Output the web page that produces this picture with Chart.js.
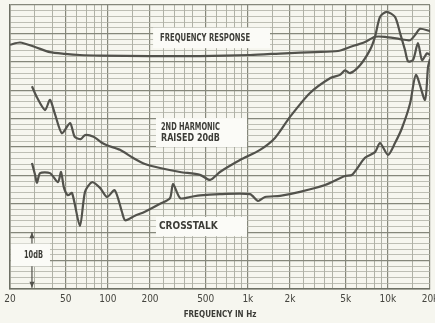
<!DOCTYPE html>
<html>
<head>
  <title>Frequency response, 2nd harmonic and crosstalk</title>
  <script src="https://cdn.jsdelivr.net/npm/chart.js"></script>
  <style>
    html, body {
      margin: 0;
      padding: 0;
      background: #f6f6ef;
    }
    #wrap {
      width: 435px;
      height: 323px;
    }
  </style>
</head>
<body>
  <div id="wrap"><canvas id="chart"></canvas></div>

  <script>
    // x axis: frequency in Hz (log), y axis: level in dB (0 = top of paper)
    const gridHz = [20, 30, 40, 50, 60, 70, 80, 90,
                    100, 150, 200, 250, 300, 350, 400, 500, 600, 700, 800, 900,
                    1000, 1500, 2000, 2500, 3000, 3500, 4000, 5000, 6000, 7000, 8000, 9000,
                    10000, 15000, 20000];
    const tickHz = [20, 50, 100, 200, 500, 1000, 2000, 5000, 10000, 20000];
    const tickText = ['20', '50', '100', '200', '500', '1k', '2k', '5k', '10k', '20k'];

    const responseHz = [20, 23.6, 30.2, 38.6, 49.4, 63.2, 87.9, 200, 455, 1036, 1842, 3018, 4400, 5365, 6866, 8094, 9540, 12210, 14394, 15627, 16965, 20000];
    const responseDb = [-7.0, -6.6, -7.4, -8.3, -8.6, -8.8, -8.9, -9.0, -9.0, -8.8, -8.5, -8.3, -8.1, -7.4, -6.5, -5.6, -5.6, -6.0, -6.2, -5.3, -4.2, -4.6];

    const harmonicHz = [28.7, 31.2, 35.6, 38.6, 41.9, 47, 53.7, 58, 64, 68.7, 79, 90, 98.6, 122, 151, 184, 236, 328, 455, 537, 632, 879, 1222, 1562, 2000, 2779, 3861, 4551, 4941, 5365, 6325, 7455, 8094, 8787, 9800, 11247, 12210, 13250, 13930, 15130, 16400, 17540, 19050, 20000];
    const harmonicDb = [-14.3, -16.3, -18.5, -16.7, -19.2, -22.6, -20.8, -23.2, -23.6, -22.9, -23.2, -24.2, -24.7, -25.5, -26.9, -28.0, -28.7, -29.4, -29.9, -30.8, -29.4, -27.3, -25.5, -23.4, -19.7, -15.5, -12.9, -12.3, -11.5, -12.0, -10.6, -7.9, -5.6, -2.1, -1.2, -2.1, -4.9, -7.9, -9.9, -9.7, -6.7, -9.7, -8.5, -8.8];

    const crosstalkHz = [28.7, 30.2, 31.2, 32.8, 38.6, 44, 46.3, 48.6, 51.9, 55.5, 63.2, 68.7, 77, 87.9, 98.6, 112, 126, 133, 156, 184, 236, 278, 292, 328, 386, 455, 632, 1036, 1182, 1325, 1697, 2357, 3557, 4941, 5547, 6866, 8094, 8787, 10024, 11247, 12600, 14394, 15887, 18420, 19360, 20000];
    const crosstalkDb = [-27.8, -29.9, -31.3, -29.6, -29.6, -31.2, -29.4, -32.2, -33.5, -33.1, -38.9, -32.9, -31.2, -32.2, -33.8, -32.6, -36.4, -37.9, -37.1, -36.4, -35.0, -34.0, -31.5, -34.0, -33.8, -33.5, -33.3, -33.3, -34.5, -33.8, -33.6, -32.9, -31.7, -30.1, -29.9, -26.9, -25.9, -24.3, -26.4, -24.3, -21.7, -17.4, -12.3, -16.7, -10.9, -9.5];

    const INK = '#52524c';
    const FONT = '"DejaVu Sans Condensed", "Liberation Sans Narrow", "DejaVu Sans", sans-serif';

    function toPoints(xs, ys) {
      return xs.map((x, i) => ({ x: x, y: ys[i] }));
    }

    function isMajorHz(v) {
      const m = v / Math.pow(10, Math.floor(Math.log10(v) + 1e-9));
      return Math.abs(m - 1) < 1e-6 || Math.abs(m - 2) < 1e-6 || Math.abs(m - 5) < 1e-6;
    }

    // paper colour behind everything
    const paper = {
      id: 'paper',
      beforeDraw(chart) {
        const ctx = chart.ctx;
        ctx.save();
        ctx.fillStyle = '#f6f6ef';
        ctx.fillRect(0, 0, chart.width, chart.height);
        ctx.restore();
      }
    };

    // white label patches stuck on the chart paper
    const notes = {
      id: 'notes',
      beforeDatasetsDraw(chart) {
        const ctx = chart.ctx;
        const xs = chart.scales.x, ys = chart.scales.y;
        const boxes = [
          { f0: 207, f1: 1439, d0: -4.0, d1: -7.6, lines: ['FREQUENCY RESPONSE'], inset: 8, w: 90 },
          { f0: 217, f1: 986, d0: -19.9, d1: -25.0, lines: ['2ND HARMONIC', 'RAISED 20dB'], inset: 6, w: 59 },
          { f0: 217, f1: 986, d0: -37.3, d1: -40.7, lines: ['CROSSTALK'], inset: 4, w: 60 },
          { f0: 20, f1: 38.6, d0: -42.0, d1: -46.0, lines: ['10dB'], inset: 14, w: 19 }
        ];
        ctx.save();
        boxes.forEach(b => {
          const x0 = xs.getPixelForValue(b.f0), x1 = xs.getPixelForValue(b.f1);
          const y0 = ys.getPixelForValue(b.d0), y1 = ys.getPixelForValue(b.d1);
          ctx.fillStyle = '#fbfbf7';
          ctx.fillRect(x0 + 1, y0, x1 - x0 - 1, y1 - y0);
          ctx.fillStyle = '#3c3c37';
          ctx.font = 'bold 10px ' + FONT;
          ctx.textAlign = 'left';
          ctx.textBaseline = 'middle';
          const gap = 11;
          const cy = (y0 + y1) / 2 - (b.lines.length - 1) * gap / 2;
          b.lines.forEach((t, i) => ctx.fillText(t, x0 + b.inset, cy + i * gap, b.w));
        });

        // 10 dB scale arrow
        const ax = xs.getPixelForValue(28.7);
        const top = ys.getPixelForValue(-40), bot = ys.getPixelForValue(-49.8);
        const bTop = ys.getPixelForValue(-42.0), bBot = ys.getPixelForValue(-46.0);
        ctx.strokeStyle = INK;
        ctx.fillStyle = INK;
        ctx.lineWidth = 1.2;
        ctx.beginPath();
        ctx.moveTo(ax, top); ctx.lineTo(ax, bTop);
        ctx.moveTo(ax, bBot); ctx.lineTo(ax, bot);
        ctx.stroke();
        ctx.beginPath();
        ctx.moveTo(ax, top); ctx.lineTo(ax - 2.5, top + 6); ctx.lineTo(ax + 2.5, top + 6); ctx.closePath();
        ctx.moveTo(ax, bot); ctx.lineTo(ax - 2.5, bot - 6); ctx.lineTo(ax + 2.5, bot - 6); ctx.closePath();
        ctx.fill();
        ctx.restore();
      }
    };

    function curve(label, xs, ys) {
      return {
        label: label,
        data: toPoints(xs, ys),
        borderColor: INK,
        borderWidth: 2.2,
        pointRadius: 0,
        tension: 0.25,
        fill: false
      };
    }

    new Chart(document.getElementById('chart'), {
      type: 'line',
      data: {
        datasets: [
          curve('Frequency response', responseHz, responseDb),
          curve('2nd harmonic raised 20dB', harmonicHz, harmonicDb),
          curve('Crosstalk', crosstalkHz, crosstalkDb)
        ]
      },
      plugins: [paper, notes],
      options: {
        responsive: true,
        maintainAspectRatio: false,
        animation: false,
        layout: { padding: { left: 10, right: 5, top: 5, bottom: 0 } },
        plugins: {
          legend: { display: false },
          tooltip: { enabled: false }
        },
        scales: {
          x: {
            type: 'logarithmic',
            min: 20,
            max: 20000,
            afterBuildTicks(scale) {
              scale.ticks = gridHz.map(v => ({ value: v }));
            },
            afterFit(scale) {
              scale.height = 34;
              scale.paddingLeft = 0;
              scale.paddingRight = 0;
            },
            ticks: {
              autoSkip: false,
              maxRotation: 0,
              padding: 4,
              color: '#45453f',
              font: { family: FONT, size: 10 },
              callback(value) {
                const i = tickHz.indexOf(value);
                return i >= 0 ? tickText[i] : '';
              }
            },
            grid: {
              drawTicks: false,
              color: ctx => isMajorHz(ctx.tick.value) ? '#85877b' : '#a8aa9e',
              lineWidth: ctx => isMajorHz(ctx.tick.value) ? 1.2 : 0.9
            },
            border: { color: '#6e7065', width: 1.5 },
            title: {
              display: true,
              text: 'FREQUENCY IN Hz',
              color: '#3c3c37',
              font: { family: FONT, size: 8, weight: 'bold' },
              padding: { top: 0, bottom: 3 }
            }
          },
          y: {
            type: 'linear',
            min: -50,
            max: 0,
            afterBuildTicks(scale) {
              const t = [];
              for (let v = -50; v <= 0; v++) t.push({ value: v });
              scale.ticks = t;
            },
            afterFit(scale) {
              scale.width = 0;
            },
            ticks: { display: false },
            grid: {
              drawTicks: false,
              color: ctx => ctx.tick.value % 5 === 0 ? '#85877b' : '#aeb0a4',
              lineWidth: ctx => ctx.tick.value % 5 === 0 ? 1.3 : 0.8
            },
            border: { color: '#6e7065', width: 1.5 }
          }
        }
      }
    });
  </script>
</body>
</html>
